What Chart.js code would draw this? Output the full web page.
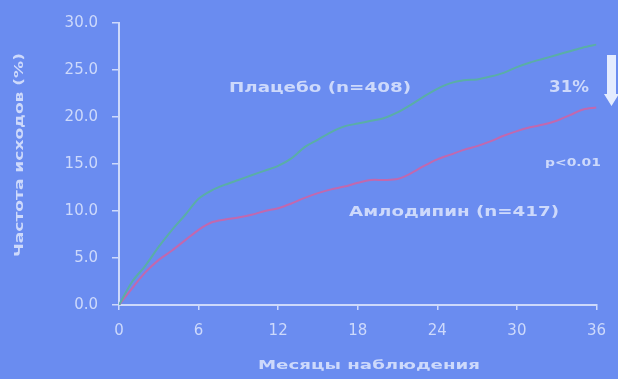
<!DOCTYPE html>
<html>
<head>
<meta charset="utf-8">
<script src="https://cdn.jsdelivr.net/npm/chart.js@4/dist/chart.umd.min.js"></script>
<style>
  html, body { margin: 0; padding: 0; background: #6a8cf0; }
  #c { display: block; }
</style>
</head>
<body>
<canvas id="c" width="618" height="379"></canvas>
<script>
// Follow-up time, months
const months = [0,1,2,3,4,5,6,7,8,9,10,11,12,13,14,15,16,17,18,19,20,21,22,23,24,25,26,27,28,29,30,31,32,33,34,35,36];
// Cumulative event rate, %
const placebo = [0,2.5,4.2,6.2,8.0,9.6,11.3,12.2,12.8,13.3,13.8,14.3,14.8,15.6,16.8,17.6,18.4,19.0,19.3,19.6,19.9,20.5,21.3,22.2,23.0,23.6,23.9,24.0,24.3,24.7,25.3,25.8,26.2,26.6,27.0,27.4,27.7];
const amlodipine = [0,1.8,3.5,4.8,5.8,6.9,8.0,8.8,9.1,9.3,9.6,10.0,10.3,10.8,11.4,11.9,12.3,12.6,13.0,13.3,13.3,13.4,14.0,14.8,15.5,16.0,16.5,16.9,17.4,18.0,18.5,18.9,19.2,19.6,20.2,20.8,21.0];
const seriesNames = ['Плацебо (n=408)', 'Амлодипин (n=417)'];
const yTitle = 'Частота исходов (%)';
const xTitle = 'Месяцы наблюдения';
const reductionLabel = '31%';
const pLabel = 'p<0.01';

const pale = '#cdd9fb';
const FONT = '"DejaVu Sans", sans-serif';

const toPoints = arr => months.map((m, i) => ({ x: m, y: arr[i] }));

// Wide lettering: draw text stretched along its baseline to a given width
function wideText(ctx, text, x, y, font, width, angle) {
  ctx.save();
  ctx.font = font;
  const w = ctx.measureText(text).width;
  ctx.translate(x, y);
  if (angle) ctx.rotate(angle);
  ctx.scale(width / w, 1);
  ctx.textAlign = 'center';
  ctx.textBaseline = 'middle';
  ctx.fillText(text, 0, 0);
  ctx.restore();
}

const annotations = {
  id: 'annotations',
  afterDraw(chart) {
    const ctx = chart.ctx;
    ctx.save();
    ctx.fillStyle = pale;

    wideText(ctx, seriesNames[0], 320, 88, 'bold 14px ' + FONT, 182);
    wideText(ctx, seriesNames[1], 454, 212, 'bold 14px ' + FONT, 210);
    wideText(ctx, reductionLabel, 569, 88, 'bold 15px ' + FONT, 40);
    wideText(ctx, pLabel, 573, 163, 'bold 11px ' + FONT, 56);

    // axis titles
    wideText(ctx, xTitle, 369, 366, 'bold 13px ' + FONT, 222);
    wideText(ctx, yTitle, 20, 155, 'bold 12px ' + FONT, 204, -Math.PI / 2);

    // down arrow at the right edge
    ctx.fillStyle = '#e4ecff';
    ctx.beginPath();
    ctx.moveTo(607, 55);
    ctx.lineTo(616, 55);
    ctx.lineTo(616, 94);
    ctx.lineTo(619, 94);
    ctx.lineTo(611.5, 106);
    ctx.lineTo(604, 94);
    ctx.lineTo(607, 94);
    ctx.closePath();
    ctx.fill();
    ctx.restore();
  }
};

new Chart(document.getElementById('c'), {
  type: 'line',
  data: {
    datasets: [
      { label: seriesNames[0], data: toPoints(placebo), borderColor: '#5aaea6', borderWidth: 2, pointRadius: 0, tension: 0.3 },
      { label: seriesNames[1], data: toPoints(amlodipine), borderColor: '#c268ae', borderWidth: 2, pointRadius: 0, tension: 0.3 }
    ]
  },
  options: {
    responsive: false,
    animation: false,
    devicePixelRatio: 1,
    layout: { padding: { top: 22, right: 18, bottom: 0, left: 0 } },
    plugins: { legend: { display: false }, tooltip: { enabled: false } },
    scales: {
      x: {
        type: 'linear', min: 0, max: 36,
        ticks: { stepSize: 6, color: pale, font: { family: FONT, size: 15 }, padding: 12 },
        grid: { drawOnChartArea: false, drawTicks: true, tickLength: 5, color: pale, lineWidth: 1.5 },
        border: { color: pale, width: 2 },
        afterFit(s) { s.height = 74; }
      },
      y: {
        min: 0, max: 30,
        ticks: { stepSize: 5, color: pale, font: { family: FONT, size: 15 }, padding: 14, callback: v => v.toFixed(1) },
        grid: { drawOnChartArea: false, drawTicks: true, tickLength: 7, color: pale, lineWidth: 1.5 },
        border: { color: pale, width: 2 },
        afterFit(s) { s.width = 119; }
      }
    }
  },
  plugins: [annotations]
});
</script>
</body>
</html>
